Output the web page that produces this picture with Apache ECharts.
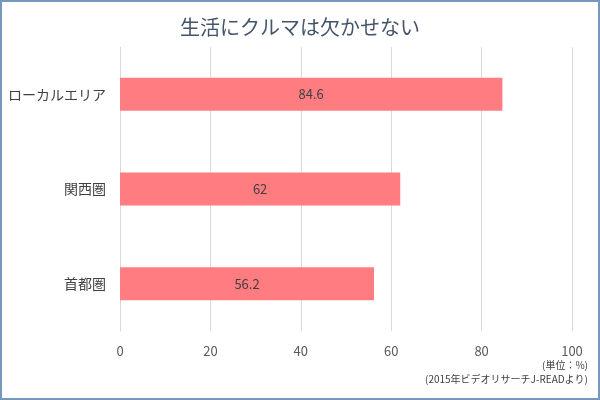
<!DOCTYPE html>
<html><head><meta charset="utf-8">
<script src="https://cdn.jsdelivr.net/npm/echarts@6/dist/echarts.min.js"></script>
<style>html,body{margin:0;padding:0;background:#fff}#c{width:600px;height:400px}</style>
</head><body><div id="c"></div>
<script>
const categories = ['ローカルエリア', '関西圏', '首都圏'];
const values = [84.6, 62, 56.2];
const titleText = '生活にクルマは欠かせない';
const noteUnit = '(単位：%)';
const noteSource = '(2015年ビデオリサーチJ-READより)';
const font = '"Noto Sans CJK JP", "Noto Sans", sans-serif';

const chart = echarts.init(document.getElementById('c'));
chart.setOption({
  animation: false,
  title: {
    text: titleText, left: 'center', top: 12,
    textStyle: {fontFamily: font, fontSize: 20, fontWeight: 'normal', color: '#44546A'}
  },
  grid: {left: 120, right: 28, top: 47, bottom: 69, containLabel: false},
  xAxis: {
    type: 'value', min: 0, max: 100, interval: 20,
    axisLine: {show: false}, axisTick: {show: false},
    splitLine: {lineStyle: {color: '#d9d9d9', width: 1}},
    axisLabel: {fontFamily: font, fontSize: 13, color: '#595959', margin: 14}
  },
  yAxis: {
    type: 'category', data: categories, inverse: true,
    axisLine: {show: true, lineStyle: {color: '#d9d9d9'}}, axisTick: {show: false},
    axisLabel: {fontFamily: font, fontSize: 14, color: '#404040', margin: 14}
  },
  series: [{
    type: 'bar', data: values, barWidth: 33,
    itemStyle: {color: '#FF7C80'},
    label: {show: true, position: 'inside', fontFamily: font, fontSize: 13, color: '#404040'}
  }],
  graphic: [
    {type: 'rect', shape: {x: 1, y: 1, width: 598, height: 398}, style: {fill: null, stroke: '#7896BE', lineWidth: 2}, silent: true},
    {type: 'text', right: 12, top: 360, style: {text: noteUnit, font: '10px ' + font, fill: '#404040', textAlign: 'right'}},
    {type: 'text', right: 12, top: 374, style: {text: noteSource, font: '10px ' + font, fill: '#404040', textAlign: 'right'}}
  ]
});
</script></body></html>
